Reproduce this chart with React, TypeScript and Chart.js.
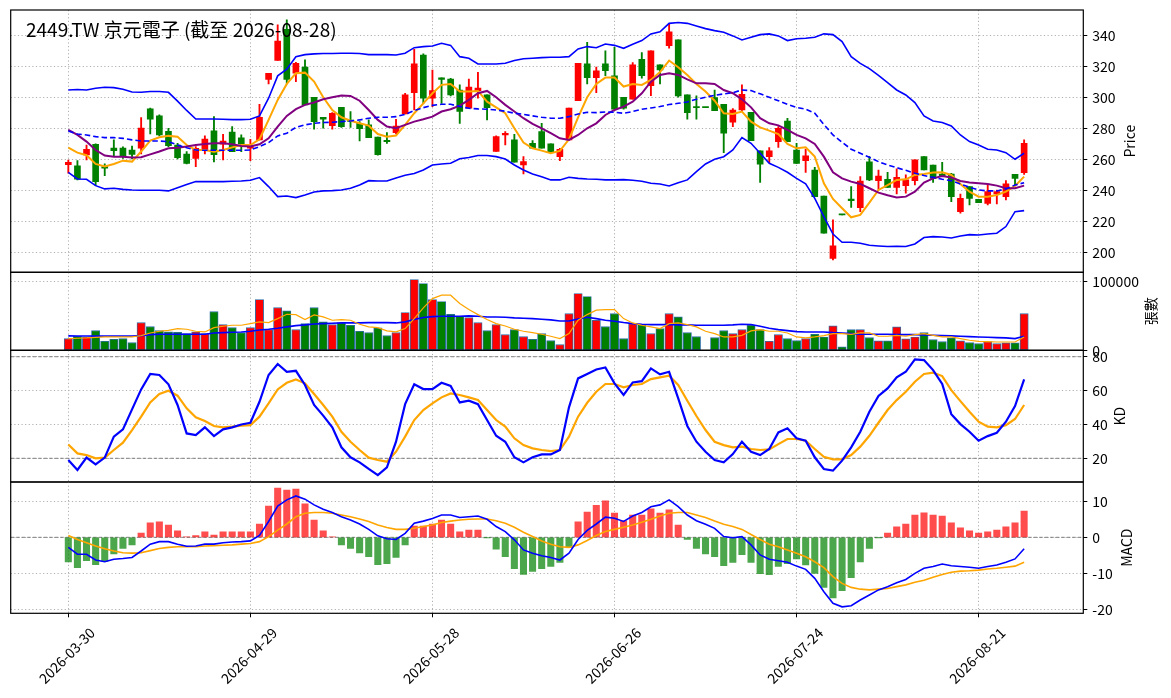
import React, { useEffect, useRef } from 'react';
import Chart from 'chart.js/auto';

const FONT = '"Noto Sans CJK TC", "Noto Sans", sans-serif';
const W = 1171;
const H = 698;
const PLOT_LEFT = 10.7;
const PLOT_RIGHT = 1083.3;
const X_MIN = -6.33;
const X_MAX = 111.5;

const title = '2449.TW 京元電子 (截至 2026-08-28)';
const tickIdx = [0, 20, 40, 60, 80, 100];
const tickLabels = ['2026-03-30', '2026-04-29', '2026-05-28', '2026-06-26', '2026-07-24', '2026-08-21'];

const opens = [
  256.5, 255.7, 262.8, 269.7, 255.3, 267.3, 267.3, 266.0, 267.1, 292.5,
  288.0, 278.1, 269.2, 263.4, 260.6, 266.2, 278.3, 269.7, 277.6, 273.8,
  267.1, 272.5, 311.6, 323.7, 343.9, 315.5, 319.4, 300.0, 287.1, 281.7,
  293.5, 285.0, 283.2, 282.2, 274.4, 271.6, 277.2, 289.2, 303.0, 327.3,
  299.4, 312.5, 311.8, 304.7, 292.9, 304.3, 301.5, 265.0, 275.7, 272.5,
  256.3, 270.3, 277.8, 269.9, 261.7, 272.5, 297.8, 321.5, 312.7, 321.5,
  313.8, 300.0, 298.7, 324.5, 307.5, 320.9, 333.3, 337.0, 301.5, 293.3,
  293.3, 299.8, 295.5, 283.9, 291.8, 290.3, 265.4, 261.7, 271.4, 284.7,
  266.0, 259.1, 253.1, 236.3, 196.1, 224.1, 234.4, 228.8, 258.3, 246.2,
  247.1, 241.9, 243.0, 246.2, 261.7, 256.3, 250.5, 250.5, 226.2, 242.4,
  234.2, 231.6, 237.6, 235.9, 250.3, 251.4,
];
const highs = [
  259.5, 259.1, 269.2, 270.0, 257.0, 272.5, 268.0, 268.6, 286.9, 293.0,
  288.6, 280.0, 270.3, 265.0, 268.2, 275.1, 287.5, 276.1, 281.1, 275.7,
  272.9, 295.5, 315.5, 346.7, 349.9, 322.6, 324.1, 300.0, 287.1, 290.1,
  293.5, 290.8, 284.3, 285.4, 274.4, 277.2, 285.8, 302.6, 331.0, 328.0,
  317.6, 312.5, 312.3, 308.0, 311.8, 316.1, 301.5, 275.1, 277.8, 276.1,
  261.7, 272.0, 283.2, 270.0, 267.1, 293.1, 321.9, 335.5, 319.4, 329.9,
  332.3, 300.0, 322.4, 328.8, 329.9, 320.9, 347.7, 337.0, 301.5, 300.9,
  293.3, 304.7, 295.5, 292.7, 308.0, 290.3, 265.4, 267.5, 281.1, 286.5,
  270.3, 266.5, 254.8, 236.3, 220.9, 224.1, 242.4, 248.8, 261.7, 253.1,
  251.6, 253.8, 250.0, 259.6, 261.7, 256.3, 258.1, 251.0, 237.6, 242.4,
  234.2, 243.4, 240.2, 246.2, 250.3, 272.5,
];
const lows = [
  251.0, 246.7, 259.6, 243.0, 249.5, 261.7, 260.6, 260.2, 263.4, 276.3,
  275.1, 268.2, 260.2, 257.0, 255.3, 263.4, 258.3, 259.6, 264.9, 264.9,
  259.1, 272.5, 308.6, 323.7, 308.6, 310.1, 295.1, 279.4, 280.0, 279.4,
  280.6, 280.6, 271.8, 274.0, 262.6, 270.3, 276.3, 289.2, 291.8, 296.1,
  294.0, 296.1, 300.9, 283.2, 292.9, 299.4, 285.4, 265.0, 269.2, 258.1,
  250.5, 267.1, 267.1, 264.0, 259.1, 272.5, 297.8, 308.6, 303.0, 314.0,
  292.3, 292.3, 298.7, 312.3, 301.1, 308.6, 331.6, 300.0, 285.8, 285.8,
  293.3, 291.4, 264.3, 281.1, 290.8, 272.0, 245.0, 257.8, 267.7, 271.4,
  257.4, 251.6, 235.9, 212.3, 195.1, 224.1, 229.0, 226.2, 246.2, 240.6,
  241.9, 237.6, 238.1, 243.4, 253.1, 245.0, 248.8, 232.7, 225.2, 230.5,
  232.0, 230.5, 231.2, 233.8, 243.4, 250.3,
];
const closes = [
  258.0, 247.1, 266.5, 245.6, 254.2, 265.6, 261.7, 263.2, 280.2, 285.8,
  275.7, 268.8, 261.1, 257.4, 267.1, 273.1, 263.0, 271.8, 264.9, 269.9,
  268.8, 287.1, 315.5, 336.3, 311.6, 321.9, 295.1, 284.3, 285.8, 289.7,
  281.1, 284.5, 279.8, 274.0, 263.0, 271.4, 281.5, 301.5, 321.5, 299.4,
  304.3, 311.6, 301.5, 290.8, 306.5, 306.0, 293.3, 274.6, 276.8, 258.1,
  258.5, 267.1, 267.1, 264.3, 266.5, 293.1, 321.9, 312.7, 317.0, 317.2,
  292.3, 292.9, 320.9, 314.0, 329.9, 317.6, 342.2, 300.9, 290.1, 293.3,
  293.3, 291.4, 276.8, 291.8, 301.9, 272.0, 256.8, 265.4, 280.0, 271.4,
  257.4, 262.2, 235.9, 212.3, 204.1, 224.1, 233.3, 246.0, 246.7, 249.2,
  241.9, 248.4, 246.7, 259.6, 253.1, 247.7, 249.2, 235.9, 234.8, 234.8,
  232.0, 239.1, 239.1, 244.1, 247.7, 270.3,
];

const bbUpper = [
  304.7, 305.0, 304.7, 305.8, 306.5, 306.2, 305.2, 303.4, 303.2, 303.7,
  303.7, 303.2, 297.5, 291.5, 286.0, 286.0, 286.0, 285.8, 285.6, 285.6,
  285.8, 288.0, 299.4, 313.8, 318.1, 326.2, 327.5, 328.0, 328.2, 328.2,
  328.4, 328.4, 328.2, 327.5, 327.5, 327.5, 327.3, 328.4, 332.0, 332.7,
  333.1, 334.8, 333.5, 326.2, 325.2, 321.5, 321.5, 321.5, 321.9, 323.7,
  324.9, 325.2, 325.6, 325.8, 325.8, 326.2, 331.2, 332.7, 332.0, 334.4,
  333.5, 331.6, 334.2, 336.6, 340.9, 342.2, 347.7, 348.2, 347.7, 346.0,
  344.3, 343.0, 341.9, 339.6, 337.0, 338.7, 340.4, 340.9, 339.6, 336.6,
  337.8, 338.1, 338.7, 340.9, 340.4, 335.9, 326.2, 321.9, 318.5, 314.2,
  309.5, 304.7, 301.5, 296.6, 288.0, 284.7, 283.7, 281.5, 275.7, 271.4,
  269.2, 266.5, 266.0, 264.3, 260.0, 263.9,
];
const bbMid = [
  278.3, 276.3, 275.7, 274.6, 274.0, 274.0, 273.5, 272.5, 271.8, 271.8,
  271.8, 271.4, 269.2, 267.5, 266.0, 265.8, 265.8, 265.8, 265.8, 265.8,
  266.0, 268.2, 270.8, 275.1, 276.8, 280.6, 282.2, 283.2, 283.7, 283.9,
  284.3, 284.7, 285.4, 286.5, 287.1, 287.1, 287.5, 289.0, 291.4, 293.3,
  294.8, 295.5, 295.5, 294.0, 292.9, 292.5, 292.3, 291.8, 291.0, 289.7,
  289.0, 288.0, 287.1, 286.5, 286.5, 287.5, 289.2, 290.3, 290.1, 290.5,
  290.3, 289.7, 290.8, 292.3, 293.1, 294.0, 295.3, 296.1, 297.0, 298.7,
  300.0, 301.3, 302.2, 303.0, 304.7, 304.3, 302.2, 300.0, 297.8, 295.5,
  293.5, 292.3, 289.7, 282.5, 275.7, 271.0, 266.5, 263.9, 261.3, 258.5,
  256.3, 254.6, 252.9, 251.0, 249.5, 248.4, 247.1, 246.2, 244.1, 241.9,
  240.2, 239.6, 239.6, 240.9, 243.4, 244.9,
];
const bbLower = [
  251.6, 247.3, 247.1, 243.0, 240.9, 241.3, 240.6, 240.2, 240.0, 240.0,
  240.0, 239.6, 241.7, 243.7, 245.6, 245.6, 245.6, 245.6, 245.8, 246.0,
  246.5, 248.2, 242.4, 235.9, 236.3, 235.3, 237.0, 238.9, 239.6, 239.8,
  240.2, 241.3, 243.4, 246.2, 246.0, 246.0, 248.0, 249.7, 250.8, 253.1,
  256.3, 257.0, 257.4, 260.4, 261.1, 262.4, 262.4, 261.7, 260.2, 256.3,
  253.1, 250.5, 248.8, 246.7, 246.7, 248.4, 247.7, 247.3, 247.1, 246.7,
  246.7, 246.9, 246.5, 245.8, 244.5, 244.1, 242.8, 244.9, 246.7, 252.0,
  257.0, 260.0, 261.7, 266.0, 274.0, 270.3, 263.9, 257.4, 254.8, 251.6,
  247.7, 244.1, 234.8, 223.0, 211.8, 206.5, 206.5, 205.8, 204.5, 204.1,
  203.7, 203.9, 203.7, 205.4, 209.5, 210.1, 209.9, 209.2, 210.5, 211.4,
  211.2, 211.8, 212.3, 216.6, 226.2, 226.9,
];
const ma5 = [
  267.5, 264.3, 262.6, 257.0, 255.3, 257.0, 259.1, 258.5, 265.0, 272.0,
  274.2, 275.1, 274.6, 269.2, 266.0, 266.0, 264.9, 266.0, 267.7, 269.2,
  269.2, 272.9, 285.4, 298.3, 308.6, 315.5, 315.9, 310.1, 300.0, 291.8,
  287.1, 284.9, 283.2, 281.7, 276.3, 274.6, 275.3, 282.2, 289.7, 296.1,
  302.6, 308.0, 308.6, 303.7, 303.7, 304.1, 297.2, 293.5, 289.7, 280.0,
  270.8, 267.1, 265.6, 263.9, 265.4, 272.9, 287.1, 300.0, 308.6, 312.7,
  312.7, 306.9, 308.6, 308.0, 311.2, 316.3, 323.7, 319.4, 314.4, 308.6,
  303.7, 297.8, 289.7, 289.2, 290.8, 284.3, 280.6, 278.5, 276.3, 269.9,
  267.1, 267.7, 261.7, 244.5, 234.4, 228.4, 222.6, 224.1, 232.1, 240.2,
  243.4, 246.7, 247.1, 249.9, 250.5, 251.4, 251.6, 249.9, 244.1, 239.1,
  235.9, 235.9, 237.0, 239.1, 242.8, 248.8,
];
const ma10 = [
  278.9, 275.7, 271.4, 266.0, 262.4, 261.7, 261.7, 261.1, 261.3, 263.2,
  265.0, 267.1, 267.5, 268.2, 269.2, 269.9, 270.3, 270.3, 269.7, 268.6,
  268.2, 269.7, 273.5, 281.1, 288.0, 292.3, 295.1, 296.6, 298.7, 300.0,
  301.1, 300.9, 297.8, 291.8, 285.4, 281.1, 280.0, 282.2, 284.3, 285.8,
  287.5, 290.8, 292.3, 294.6, 298.3, 302.6, 304.1, 300.0, 295.1, 290.8,
  286.5, 282.8, 280.0, 276.8, 273.5, 272.5, 275.7, 280.0, 283.2, 288.6,
  291.8, 294.0, 297.2, 302.6, 310.1, 314.4, 315.5, 314.4, 311.6, 309.0,
  309.0, 308.6, 304.7, 302.6, 298.7, 293.5, 286.5, 283.2, 281.9, 278.9,
  275.7, 273.5, 269.9, 261.7, 251.6, 247.7, 245.6, 244.1, 241.3, 238.5,
  236.8, 235.3, 235.9, 239.1, 245.0, 247.7, 249.2, 248.2, 246.0, 245.0,
  244.5, 244.1, 243.0, 241.3, 241.3, 243.0,
];

const volume = [
  17000, 20400, 19400, 28600, 13100, 16000, 17000, 11200, 40300, 34500,
  28600, 26700, 26200, 24300, 26700, 24300, 56300, 37400, 33000, 25700,
  33000, 73800, 30100, 62100, 57300, 30100, 38800, 62100, 41300, 37400,
  39800, 36400, 27700, 25700, 32500, 21400, 25700, 54900, 102900, 97100,
  73800, 70900, 52400, 49500, 47600, 40300, 28600, 37400, 22800, 30100,
  19900, 16000, 24300, 14100, 8300, 53400, 82500, 78200, 43700, 34500,
  53400, 17000, 38800, 37400, 24300, 31600, 53400, 48500, 25700, 19900,
  0, 18400, 28600, 24300, 30100, 36400, 30100, 13100, 22800, 17000,
  14100, 17000, 23300, 19400, 35400, 4900, 30100, 30100, 18400, 13600,
  13600, 34000, 16500, 19400, 25700, 15500, 12600, 18000, 13600, 11200,
  9700, 12600, 9700, 10700, 10700, 53400,
];
const volMa5 = [
  17000, 17500, 18000, 18900, 19400, 19400, 19400, 19400, 21400, 25200,
  27700, 29100, 31600, 30600, 27700, 26700, 33000, 35000, 36400, 36400,
  38800, 41300, 40300, 46100, 52400, 51900, 44700, 51500, 48500, 43700,
  44700, 43700, 37900, 34000, 33000, 28200, 26700, 31600, 46100, 61700,
  75200, 80100, 80100, 68000, 59200, 51900, 44700, 38800, 35400, 30600,
  27700, 25700, 23300, 20400, 17000, 24300, 43700, 51900, 58300, 59200,
  59200, 46100, 39800, 36400, 34000, 31600, 38800, 39800, 37400, 34000,
  27700, 24300, 19400, 19400, 21800, 28200, 30100, 27700, 27700, 25200,
  19400, 18000, 19400, 21400, 24300, 24300, 23300, 25200, 25200, 20400,
  20400, 21800, 20400, 22800, 24300, 21800, 19400, 19400, 17000, 14600,
  13100, 12600, 12100, 12100, 12100, 19400,
];
const volMa20 = [
  20900, 20800, 20700, 20600, 20600, 20600, 20600, 20600, 21400, 22800,
  23300, 23300, 23300, 23300, 23300, 23300, 25200, 25700, 26200, 26700,
  27700, 29600, 30600, 32000, 34000, 35900, 36900, 38300, 38800, 39300,
  39800, 39800, 39800, 40300, 40300, 40300, 39800, 41300, 44700, 47600,
  49000, 49500, 49500, 49500, 50000, 49500, 48500, 48500, 48100, 47100,
  46600, 46100, 45100, 44200, 42700, 42700, 45600, 48100, 46100, 43700,
  42200, 40300, 38800, 37900, 37400, 37400, 37400, 36900, 36900, 36400,
  36400, 36400, 36400, 36900, 37900, 37400, 35000, 32000, 30100, 28600,
  27200, 26700, 26700, 26700, 25700, 25200, 24300, 23300, 23300, 23300,
  23300, 22800, 22800, 22800, 22300, 21800, 21400, 20900, 20400, 19900,
  19400, 18900, 18400, 18000, 17000, 20400,
];

const kLine = [
  19.0, 13.1, 20.4, 16.4, 20.4, 32.8, 37.1, 48.9, 60.7, 69.8,
  69.2, 63.7, 51.5, 34.7, 33.7, 38.3, 33.1, 37.1, 38.3, 40.0,
  41.0, 53.4, 69.2, 75.7, 71.1, 71.7, 63.3, 51.5, 45.2, 38.3,
  26.5, 20.6, 17.6, 13.7, 10.1, 14.6, 29.8, 52.0, 63.7, 60.9,
  60.9, 64.6, 62.7, 53.0, 54.0, 52.0, 42.6, 33.3, 29.8, 20.6,
  17.6, 20.6, 22.3, 22.3, 24.9, 50.1, 67.2, 69.8, 72.5, 73.7,
  64.3, 57.4, 64.8, 65.6, 73.1, 69.6, 71.1, 55.4, 39.1, 29.8,
  23.9, 19.0, 17.6, 22.5, 29.8, 23.9, 21.9, 25.5, 35.3, 37.7,
  31.8, 30.4, 20.6, 13.7, 12.7, 18.6, 26.5, 35.7, 47.5, 56.8,
  61.3, 67.8, 71.1, 78.4, 78.0, 72.1, 63.9, 46.1, 40.2, 35.7,
  30.4, 33.1, 35.1, 41.6, 50.9, 66.6,
];
const dLine = [
  28.2, 22.9, 21.9, 20.0, 20.4, 24.9, 29.2, 36.7, 44.6, 53.0,
  58.0, 59.9, 57.0, 49.5, 44.2, 42.0, 39.1, 38.3, 38.7, 39.3,
  39.6, 44.6, 52.4, 60.7, 64.6, 66.6, 64.3, 58.0, 51.5, 44.6,
  35.7, 29.8, 24.9, 20.4, 19.0, 18.0, 23.9, 32.8, 42.6, 48.5,
  52.4, 56.0, 58.3, 57.4, 56.0, 54.4, 48.5, 42.6, 38.7, 31.8,
  27.8, 25.9, 24.9, 24.3, 24.9, 32.8, 44.6, 52.8, 59.3, 63.9,
  63.9, 61.9, 63.3, 63.9, 66.8, 67.8, 68.8, 63.3, 54.0, 45.0,
  36.7, 29.8, 27.8, 26.5, 26.9, 25.5, 24.9, 25.3, 28.4, 31.4,
  31.4, 30.4, 25.5, 20.9, 19.4, 19.4, 21.9, 26.9, 33.3, 41.0,
  48.5, 54.4, 59.3, 65.2, 69.8, 70.6, 68.6, 60.3, 53.8, 47.5,
  41.6, 38.7, 38.3, 39.6, 43.2, 51.5,
];

const dif = [
  -2.8, -4.7, -4.7, -6.3, -6.8, -6.1, -5.9, -5.6, -3.8, -1.9,
  -1.2, -1.2, -1.9, -2.5, -2.4, -1.9, -1.9, -1.5, -1.3, -1.2,
  -1.0, 0.5, 4.4, 8.7, 10.4, 11.5, 10.6, 9.0, 7.8, 6.9,
  5.7, 4.8, 3.7, 2.2, 0.4, -0.4, -0.6, 1.1, 3.9, 4.5,
  5.2, 6.2, 6.2, 5.5, 5.7, 5.9, 5.0, 3.0, 1.6, -0.7,
  -3.5, -4.4, -5.1, -5.6, -6.3, -4.4, -0.6, 1.9, 3.7, 5.6,
  5.3, 4.4, 5.9, 6.9, 8.5, 9.0, 10.4, 8.5, 6.2, 4.6,
  3.6, 2.5, 0.2, -0.1, 0.2, -2.1, -4.9, -6.1, -6.5, -6.9,
  -8.0, -8.9, -11.4, -15.1, -18.3, -19.3, -19.0, -17.4, -16.0, -14.6,
  -13.7, -12.6, -11.7, -10.0, -8.6, -8.1, -7.4, -7.9, -8.1, -8.3,
  -8.6, -8.1, -7.7, -6.9, -6.0, -3.2,
];
const dea = [
  0.5, -0.6, -1.5, -2.4, -3.2, -3.8, -4.3, -4.4, -4.3, -3.7,
  -3.1, -2.8, -2.6, -2.6, -2.6, -2.4, -2.3, -2.2, -2.1, -1.9,
  -1.7, -1.2, 0.2, 2.0, 3.7, 5.7, 6.7, 6.9, 6.9, 6.7,
  6.2, 5.7, 5.1, 4.4, 3.4, 2.7, 2.2, 2.2, 2.5, 3.0,
  3.4, 4.1, 4.5, 4.8, 5.0, 5.1, 5.1, 4.6, 3.9, 2.8,
  1.4, 0.2, -1.0, -1.9, -2.6, -2.8, -2.1, -0.9, 0.5, 1.6,
  2.2, 2.8, 3.4, 4.2, 5.0, 5.9, 6.7, 6.9, 6.9, 6.2,
  5.5, 4.5, 3.6, 3.0, 2.2, 0.8, -0.6, -1.9, -2.6, -3.5,
  -4.4, -5.4, -6.8, -8.4, -10.9, -12.8, -13.9, -14.4, -14.6, -14.4,
  -14.2, -13.7, -13.2, -12.5, -11.9, -11.1, -10.3, -9.7, -9.4, -9.3,
  -9.1, -8.8, -8.6, -8.3, -8.0, -6.9,
];
const macdHist = [
  -6.8, -8.4, -6.5, -7.6, -6.7, -4.6, -3.1, -2.1, 1.2, 4.0,
  4.3, 3.4, 1.8, 0.1, 0.5, 1.5, 0.6, 1.5, 1.5, 1.5,
  1.5, 3.7, 8.7, 13.7, 13.1, 13.4, 9.3, 4.8, 1.8, 0.1,
  -2.1, -3.1, -4.3, -5.4, -7.6, -7.3, -5.6, -2.1, 3.1, 3.1,
  3.7, 4.8, 3.7, 1.5, 2.0, 2.0, -0.1, -3.3, -5.4, -8.7,
  -10.3, -9.5, -8.7, -8.1, -7.0, -2.8, 4.3, 7.0, 8.9, 10.1,
  6.7, 4.6, 6.2, 6.2, 7.9, 6.7, 7.6, 3.4, -0.6, -3.1,
  -4.6, -5.4, -7.9, -7.0, -4.8, -7.0, -10.1, -10.4, -8.1, -7.3,
  -6.0, -7.7, -10.0, -13.9, -16.8, -14.8, -11.2, -6.8, -3.1, -0.1,
  1.2, 2.9, 3.7, 6.2, 6.8, 6.2, 5.9, 4.0, 2.6, 1.8,
  1.2, 1.5, 2.0, 2.9, 4.0, 7.3,
];

const priceTicks = [200, 220, 240, 260, 280, 300, 320, 340];
const volTicks = [0, 100000];
const kdTicks = [20, 40, 60, 80];
const macdTicks = [-20, -10, 0, 10];
const kdRefLines = [20, 80];
const macdRefLines = [0];

const GRID = '#b0b0b0';
const UP = '#ff0000';
const DOWN = '#008000';

const pts = (arr: number[]) => arr.map((y, i) => ({ x: i, y }));
const candleColors = closes.map((c, i) => (c > opens[i] ? UP : DOWN));

// draws frame, reference lines and rotated axis titles
const panelPlugin = {
  id: 'panel',
  beforeDatasetsDraw(chart: any, _a: any, opts: any) {
    const { ctx, chartArea: a } = chart;
    const y = chart.scales.y;
    ctx.save();
    ctx.strokeStyle = '#7f7f7f';
    ctx.lineWidth = 1;
    ctx.setLineDash([3.5, 2]);
    (opts.refLines || []).forEach((v: number) => {
      const py = y.getPixelForValue(v);
      ctx.beginPath();
      ctx.moveTo(a.left, py);
      ctx.lineTo(a.right, py);
      ctx.stroke();
    });
    ctx.restore();
  },
  afterDraw(chart: any, _a: any, opts: any) {
    const { ctx, chartArea: a } = chart;
    ctx.save();
    ctx.strokeStyle = '#000';
    ctx.lineWidth = 1.2;
    ctx.strokeRect(a.left, a.top, a.right - a.left, a.bottom - a.top);
    ctx.fillStyle = '#000';
    if (opts.axisTitle) {
      ctx.save();
      ctx.translate(opts.titleX, (a.top + a.bottom) / 2);
      ctx.rotate(-Math.PI / 2);
      ctx.font = `14px ${FONT}`;
      ctx.textAlign = 'center';
      ctx.textBaseline = 'middle';
      ctx.fillText(opts.axisTitle, 0, 0);
      ctx.restore();
    }
    if (opts.mainTitle) {
      ctx.font = `19px ${FONT}`;
      ctx.textAlign = 'left';
      ctx.textBaseline = 'alphabetic';
      ctx.fillText(opts.mainTitle, 26, 36.7);
    }
    ctx.restore();
  },
};

function makeOptions(top: number, bottom: number, yMin: number, yMax: number, yTicks: number[], showX: boolean, panel: any) {
  return {
    responsive: false,
    animation: false,
    events: [],
    layout: { autoPadding: false, padding: { left: PLOT_LEFT, right: 0, top, bottom: showX ? 0 : H - bottom } },
    plugins: { legend: { display: false }, tooltip: { enabled: false }, panel },
    scales: {
      x: {
        type: 'linear',
        min: X_MIN,
        max: X_MAX,
        bounds: 'data',
        offset: false,
        afterBuildTicks: (s: any) => {
          s.ticks = tickIdx.map((v) => ({ value: v }));
        },
        afterFit: (s: any) => {
          s.height = showX ? H - bottom : 0;
          s.paddingLeft = 0;
          s.paddingRight = 0;
        },
        grid: { color: GRID, offset: false, drawTicks: showX, tickLength: 4, tickColor: '#000', tickWidth: 1 },
        border: { display: false, dash: [1.2, 2.4] },
        ticks: {
          display: showX,
          autoSkip: false,
          maxRotation: 45,
          minRotation: 45,
          labelOffset: 24,
          padding: 7,
          color: '#000',
          font: { family: FONT, size: 14 },
          callback: (_v: any, i: number) => tickLabels[i],
        },
      },
      y: {
        position: 'right',
        min: yMin,
        max: yMax,
        bounds: 'data',
        afterBuildTicks: (s: any) => {
          s.ticks = yTicks.map((v) => ({ value: v }));
        },
        afterFit: (s: any) => {
          s.width = W - PLOT_RIGHT;
          s.paddingTop = 0;
          s.paddingBottom = 0;
        },
        grid: { color: GRID, tickLength: 4, tickColor: '#000', tickWidth: 1 },
        border: { display: false, dash: [1.2, 2.4] },
        ticks: {
          color: '#000',
          padding: 5,
          font: { family: FONT, size: 14 },
          callback: (v: any) => String(v),
        },
      },
    },
  };
}

const line = (data: number[], color: string, width: number, extra: any = {}) => ({
  type: 'line',
  data: pts(data),
  borderColor: color,
  borderWidth: width,
  pointRadius: 0,
  tension: 0,
  fill: false,
  order: 0,
  ...extra,
});

export default function App() {
  const priceRef = useRef<HTMLCanvasElement>(null);
  const volRef = useRef<HTMLCanvasElement>(null);
  const kdRef = useRef<HTMLCanvasElement>(null);
  const macdRef = useRef<HTMLCanvasElement>(null);

  useEffect(() => {
    const charts: Chart[] = [];

    charts.push(
      new Chart(priceRef.current as HTMLCanvasElement, {
        type: 'bar',
        data: {
          datasets: [
            line(bbUpper, '#0000ff', 1.6),
            line(bbLower, '#0000ff', 1.6),
            line(bbMid, '#0000ff', 1.6, { borderDash: [5.5, 3] }),
            line(ma10, '#800080', 2),
            line(ma5, '#ffa500', 2),
            {
              type: 'bar',
              data: lows.map((l, i) => ({ x: i, y: [l, highs[i]] })),
              backgroundColor: candleColors,
              barThickness: 1.2,
              grouped: false,
              order: 2,
            },
            {
              type: 'bar',
              data: opens.map((o, i) => ({ x: i, y: [o, closes[i]] })),
              backgroundColor: candleColors,
              barThickness: 6,
              minBarLength: 1.2,
              grouped: false,
              order: 1,
            },
          ],
        } as any,
        options: makeOptions(10, 272.3, 187.1, 356.3, priceTicks, false, {
          axisTitle: 'Price',
          titleX: 1129.3,
          mainTitle: title,
        }) as any,
        plugins: [panelPlugin as any],
      })
    );

    charts.push(
      new Chart(volRef.current as HTMLCanvasElement, {
        type: 'bar',
        data: {
          datasets: [
            line(volMa5, '#ffa500', 1.2),
            line(volMa20, '#0000ff', 1.6),
            {
              type: 'bar',
              data: pts(volume),
              backgroundColor: candleColors,
              borderColor: '#2f6fa8',
              borderWidth: 0.9,
              borderSkipped: false,
              barThickness: 8.3,
              grouped: false,
              order: 1,
            },
          ],
        } as any,
        options: makeOptions(272.3, 350.3, 0, 113400, volTicks, false, { axisTitle: '張數', titleX: 1151 }) as any,
        plugins: [panelPlugin as any],
      })
    );

    charts.push(
      new Chart(kdRef.current as HTMLCanvasElement, {
        type: 'line',
        data: {
          datasets: [line(kLine, '#0000ff', 2.2), line(dLine, '#ffa500', 2.2)],
        } as any,
        options: makeOptions(350.3, 482, 6.0, 83.8, kdTicks, false, {
          axisTitle: 'KD',
          titleX: 1120,
          refLines: kdRefLines,
        }) as any,
        plugins: [panelPlugin as any],
      })
    );

    charts.push(
      new Chart(macdRef.current as HTMLCanvasElement, {
        type: 'bar',
        data: {
          datasets: [
            line(dif, '#0000ff', 1.6),
            line(dea, '#ffa500', 1.6),
            {
              type: 'bar',
              data: pts(macdHist),
              backgroundColor: macdHist.map((v) => (v >= 0 ? 'rgba(255,0,0,0.7)' : 'rgba(0,128,0,0.7)')),
              barThickness: 6.4,
              grouped: false,
              order: 1,
            },
          ],
        } as any,
        options: makeOptions(482, 613.3, -21.1, 15.36, macdTicks, true, {
          axisTitle: 'MACD',
          titleX: 1126.7,
          refLines: macdRefLines,
        }) as any,
        plugins: [panelPlugin as any],
      })
    );

    return () => charts.forEach((c) => c.destroy());
  }, []);

  const cv: React.CSSProperties = { position: 'absolute', left: 0, top: 0, width: W, height: H };
  return (
    <div style={{ position: 'absolute', left: 0, top: 0, width: W, height: H, background: '#fff', overflow: 'hidden' }}>
      <canvas ref={priceRef} width={W} height={H} style={cv} />
      <canvas ref={volRef} width={W} height={H} style={cv} />
      <canvas ref={kdRef} width={W} height={H} style={cv} />
      <canvas ref={macdRef} width={W} height={H} style={cv} />
    </div>
  );
}
